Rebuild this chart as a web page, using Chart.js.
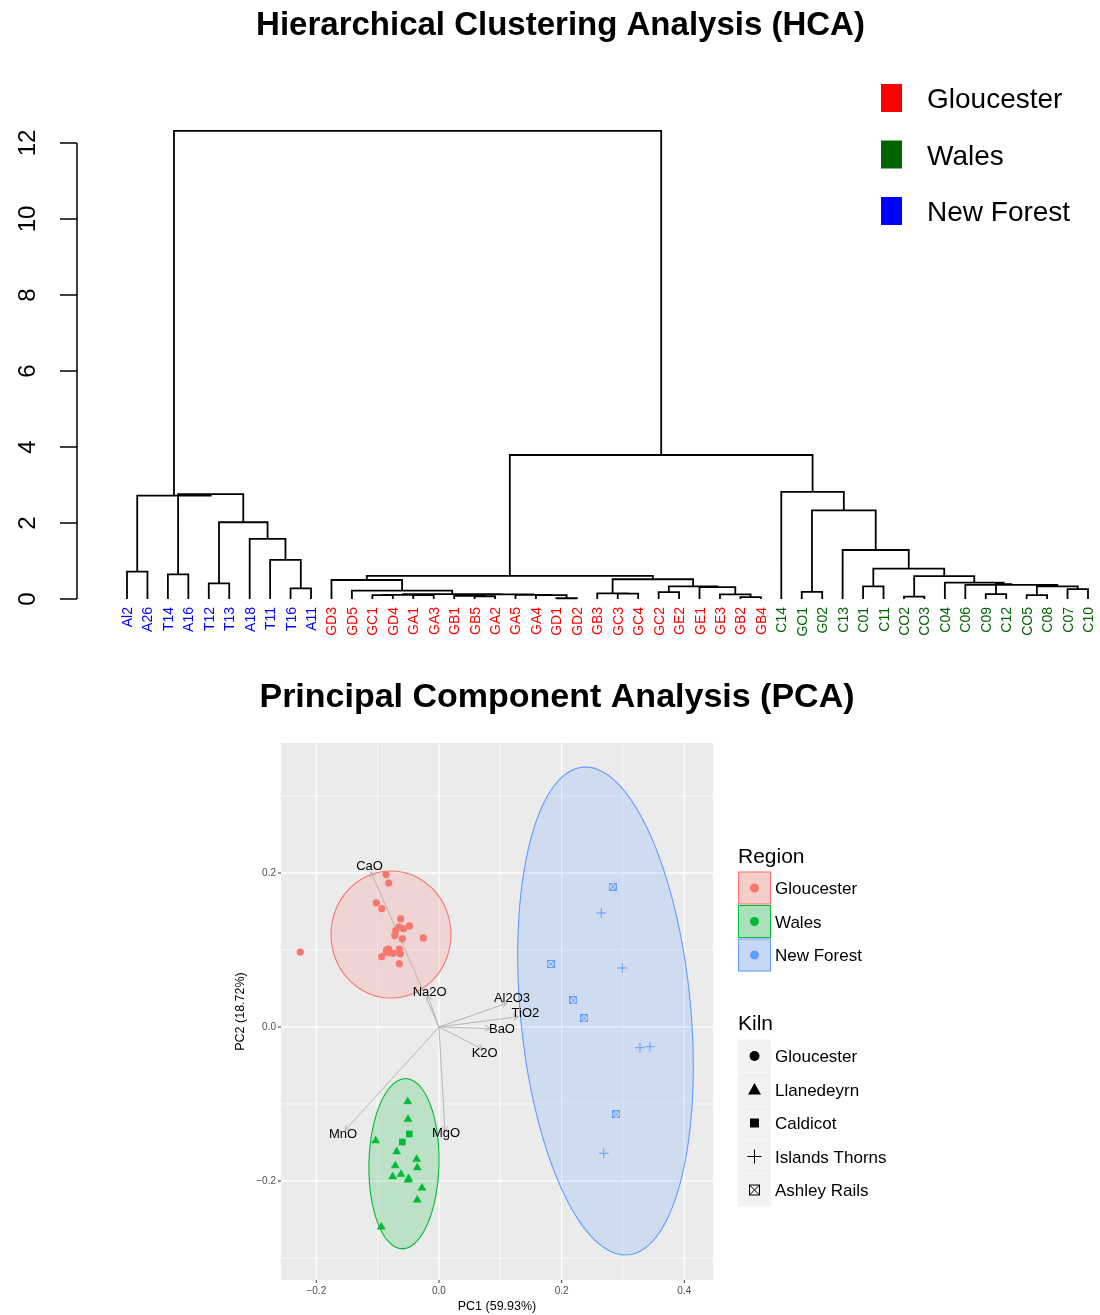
<!DOCTYPE html>
<html><head><meta charset="utf-8">
<script src="https://cdn.jsdelivr.net/npm/chart.js@4/dist/chart.umd.min.js"></script>
<style>
html,body{margin:0;padding:0;background:#fff;}
#wrap{position:relative;width:1100px;height:1315px;overflow:hidden;}
#hca{position:absolute;left:0;top:0;}
#pca{position:absolute;left:0;top:650px;}
</style></head><body>
<div id="wrap">
<canvas id="hca" width="1100" height="650"></canvas>
<canvas id="pca" width="1100" height="665"></canvas>
</div>
<script>
// ---------------- HCA data ----------------
const hcaTitle = "Hierarchical Clustering Analysis (HCA)";
const leafLabels = ["Al2","A26","T14","A16","T12","T13","A18","T11","T16","A11",
 "GD3","GD5","GC1","GD4","GA1","GA3","GB1","GB5","GA2","GA5","GA4","GD1","GD2","GB3","GC3","GC4","GC2","GE2","GE1","GE3","GB2","GB4",
 "C14","GO1","G02","C13","C01","C11","CO2","CO3","C04","C06","C09","C12","CO5","C08","C07","C10"];
const leafRegions = [].concat(Array(10).fill("New Forest"), Array(22).fill("Gloucester"), Array(16).fill("Wales"));
// merges: string = leaf, number = earlier merge index
const mergeA = ["Al2","T14","T12","T16","T11","A18",2,1,0,
 "GC1","GA1",9,"GB5","GB1","GD1","GA4","GA5",13,11,"GD5","GD3",
 "GC3","GB3","GC2","GB2","GE3","GE1",23,22,20,
 "C09","CO5","C07",31,"C06",30,"C04","CO2",37,"C01",39,"C13","GO1",42,"C14",29,8];
const mergeB = ["A26","A16","T13","A11",3,4,5,6,7,
 "GD4","GA3",10,"GA2",12,"GD2",14,15,16,17,18,19,
 "GC4",21,"GE2","GB4",24,25,26,27,28,
 "C12","C08","C10",32,33,34,35,"CO3",36,"C11",38,40,"G02",41,43,44,45];
const mergeHeight = [0.72,0.65,0.41,0.28,1.03,1.58,2.02,2.76,2.72,
 0.10,0.10,0.11,0.07,0.08,0.02,0.10,0.11,0.12,0.13,0.22,0.50,
 0.14,0.15,0.18,0.05,0.12,0.31,0.33,0.52,0.61,
 0.13,0.10,0.26,0.33,0.37,0.39,0.43,0.06,0.60,0.33,0.80,1.29,0.19,2.33,2.82,3.79,12.32];
const hcaYTicks = [0,2,4,6,8,10,12];
const hcaLegendLabels = ["Gloucester","Wales","New Forest"];
const hcaColors = {"Gloucester":"#FF0000","Wales":"#006400","New Forest":"#0000FF"};

// ---------------- PCA data ----------------
const pcaTitle = "Principal Component Analysis (PCA)";
const kilnGloucester = [[-0.0864,0.1979],[-0.0820,0.1870],[-0.1022,0.1613],[-0.0934,0.1536],[-0.0625,0.1403],
 [-0.0481,0.1312],[-0.0652,0.1299],[-0.0576,0.1275],[-0.0706,0.1251],[-0.0721,0.1184],[-0.0598,0.1145],
 [-0.0256,0.1156],[-0.0647,0.1013],[-0.0853,0.1003],[-0.0820,0.1013],[-0.0799,0.0965],[-0.0745,0.0956],
 [-0.0853,0.0974],[-0.0631,0.0951],[-0.0934,0.0913],[-0.0647,0.0822],[-0.2262,0.0974]];
const kilnLlanedeyrn = [[-0.0510,-0.0970],[-0.0505,-0.1199],[-0.1032,-0.1477],[-0.0690,-0.1619],[-0.0364,-0.1718],
 [-0.0354,-0.1827],[-0.0713,-0.1801],[-0.0755,-0.1944],[-0.0620,-0.1913],[-0.0505,-0.1987],[-0.0494,-0.1968],
 [-0.0277,-0.2091],[-0.0354,-0.2247],[-0.0941,-0.2597]];
const kilnCaldicot = [[-0.0484,-0.1390],[-0.0598,-0.1494]];
const kilnIslandsThorns = [[0.2646,0.1481],[0.2989,0.0766],[0.3277,-0.0269],[0.3440,-0.0256],[0.2686,-0.1640]];
const kilnAshleyRails = [[0.2832,0.1822],[0.1821,0.0818],[0.2190,0.0347],[0.2369,0.0113],[0.2891,-0.1134]];
const varNames = ["CaO","Na2O","Al2O3","TiO2","BaO","K2O","MnO","MgO"];
const varPC1 = [-0.1109,-0.0179,0.1104,0.1293,0.0832,0.0713,-0.1533,0.0098];
const varPC2 = [0.2013,0.0403,0.0308,0.0134,-0.0019,-0.0290,-0.1344,-0.1357];
const varLabelPC1 = [-0.1133,-0.0152,0.1190,0.1410,0.1027,0.0745,-0.1565,0.0114];
const varLabelPC2 = [0.2084,0.0448,0.0373,0.0182,-0.0026,-0.0347,-0.1390,-0.1377];
const ellipseRegions = ["Gloucester","Wales","New Forest"];
const ellipseCenters = [[-0.0783,0.1201],[-0.0571,-0.1775],[0.2715,0.0208]];
const ellipseAxisA = [[0.0978,0.0],[0.0571,0.0],[0.0371,-0.3167]];
const ellipseAxisB = [[0.0,0.0825],[0.0026,0.1104],[0.1383,0.0103]];
const pcaXLim = [-0.2576,0.4468];
const pcaYLim = [-0.3286,0.3688];
const pcaXMajor = [-0.2,0.0,0.2,0.4];
const pcaXMinor = [-0.1,0.1,0.3];
const pcaYMajor = [-0.2,0.0,0.2];
const pcaYMinor = [-0.3,-0.1,0.1,0.3];
const pcaXTickLabels = ["\u22120.2","0.0","0.2","0.4"];
const pcaYTickLabels = ["\u22120.2","0.0","0.2"];
const pcaXTitle = "PC1 (59.93%)";
const pcaYTitle = "PC2 (18.72%)";
const regionLegend = ["Gloucester","Wales","New Forest"];
const kilnLegend = ["Gloucester","Llanedeyrn","Caldicot","Islands Thorns","Ashley Rails"];
const regionColors = {"Gloucester":"#F8766D","Wales":"#00BA38","New Forest":"#619CFF"};

const FONT = '"Liberation Sans", Arial, Helvetica, sans-serif';

// ---------------- HCA chart ----------------
const segs = [];
const nodeX = [];
function refPos(r){ return typeof r === 'string' ? {x: leafLabels.indexOf(r), y: 0} : {x: nodeX[r], y: mergeHeight[r]}; }
for (let i = 0; i < mergeHeight.length; i++) {
  const a = refPos(mergeA[i]), b = refPos(mergeB[i]), h = mergeHeight[i];
  nodeX[i] = (a.x + b.x) / 2;
  segs.push({x:a.x,y:a.y},{x:a.x,y:h},{x:b.x,y:h},{x:b.x,y:b.y},{x:b.x,y:null});
}

const hcaDecor = {
  id: 'hcaDecor',
  afterDraw(chart) {
    const ctx = chart.ctx, xs = chart.scales.x, ys = chart.scales.y;
    ctx.save();
    ctx.fillStyle = '#000';
    ctx.font = 'bold 33px ' + FONT; ctx.textAlign = 'center'; ctx.textBaseline = 'alphabetic';
    ctx.fillText(hcaTitle, 560.5, 35);
    // y axis
    ctx.strokeStyle = '#000'; ctx.lineWidth = 1.5;
    const axX = 77;
    ctx.beginPath();
    ctx.moveTo(axX, ys.getPixelForValue(hcaYTicks[0]));
    ctx.lineTo(axX, ys.getPixelForValue(hcaYTicks[hcaYTicks.length - 1]));
    ctx.stroke();
    ctx.font = '24px ' + FONT;
    hcaYTicks.forEach(v => {
      const y = ys.getPixelForValue(v);
      ctx.beginPath(); ctx.moveTo(60, y); ctx.lineTo(axX, y); ctx.stroke();
      ctx.save(); ctx.translate(35, y); ctx.rotate(-Math.PI / 2);
      ctx.textAlign = 'center'; ctx.fillText(String(v), 0, 0); ctx.restore();
    });
    // leaf labels
    ctx.font = '14px ' + FONT;
    leafLabels.forEach((lab, i) => {
      const x = xs.getPixelForValue(i);
      ctx.save(); ctx.translate(x + 5, 607); ctx.rotate(-Math.PI / 2);
      ctx.textAlign = 'right'; ctx.fillStyle = hcaColors[leafRegions[i]];
      ctx.fillText(lab, 0, 0); ctx.restore();
    });
    // legend
    ctx.font = '28px ' + FONT; ctx.textAlign = 'left';
    hcaLegendLabels.forEach((lab, k) => {
      const cy = 98 + k * 56.5;
      ctx.fillStyle = hcaColors[lab];
      ctx.fillRect(881, cy - 14, 21, 28);
      ctx.fillStyle = '#000';
      ctx.fillText(lab, 927, cy + 10);
    });
    ctx.restore();
  }
};

new Chart(document.getElementById('hca'), {
  type: 'scatter',
  data: { datasets: [{ data: segs, showLine: true, spanGaps: false, borderColor: '#000', borderWidth: 1.8,
    pointRadius: 0, pointHoverRadius: 0, clip: false, borderJoinStyle: 'miter' }] },
  options: {
    responsive: false, animation: false, events: [],
    layout: { padding: { left: 116.78, right: 1.78, top: 124, bottom: 51 } },
    scales: {
      x: { type: 'linear', min: -0.5, max: 47.5, display: false },
      y: { type: 'linear', min: 0, max: 12.5, display: false }
    },
    plugins: { legend: { display: false }, tooltip: { enabled: false } }
  },
  plugins: [hcaDecor]
});

// ---------------- PCA chart ----------------
function boxX(color, size, lw) {
  const c = document.createElement('canvas'); c.width = size; c.height = size;
  const g = c.getContext('2d'); g.strokeStyle = color; g.lineWidth = lw;
  const o = lw / 2, e = size - lw / 2;
  g.strokeRect(o, o, e - o, e - o);
  g.beginPath(); g.moveTo(o, o); g.lineTo(e, e); g.moveTo(e, o); g.lineTo(o, e); g.stroke();
  return c;
}
const arStyle = boxX('#619CFF', 8, 1);
const toXY = arr => arr.map(p => ({x: p[0], y: p[1]}));

function drawSymbol(ctx, kind, x, y, color) {
  ctx.save(); ctx.fillStyle = color; ctx.strokeStyle = color;
  if (kind === 0) { ctx.beginPath(); ctx.arc(x, y, 5, 0, 2 * Math.PI); ctx.fill(); }
  else if (kind === 1) { ctx.beginPath(); ctx.moveTo(x, y - 6.5); ctx.lineTo(x + 6.5, y + 5); ctx.lineTo(x - 6.5, y + 5); ctx.closePath(); ctx.fill(); }
  else if (kind === 2) { ctx.fillRect(x - 4.5, y - 4.5, 9, 9); }
  else if (kind === 3) { ctx.lineWidth = 1; ctx.beginPath(); ctx.moveTo(x - 7, y); ctx.lineTo(x + 7, y); ctx.moveTo(x, y - 7); ctx.lineTo(x, y + 7); ctx.stroke(); }
  else if (kind === 4) { ctx.lineWidth = 1; ctx.strokeRect(x - 5, y - 5, 10, 10); ctx.beginPath(); ctx.moveTo(x - 5, y - 5); ctx.lineTo(x + 5, y + 5); ctx.moveTo(x + 5, y - 5); ctx.lineTo(x - 5, y + 5); ctx.stroke(); }
  ctx.restore();
}

const pcaDecor = {
  id: 'pcaDecor',
  beforeDatasetsDraw(chart) {
    const ctx = chart.ctx, ca = chart.chartArea, xs = chart.scales.x, ys = chart.scales.y;
    ctx.save();
    ctx.fillStyle = '#EBEBEB';
    ctx.fillRect(ca.left, ca.top, ca.right - ca.left, ca.bottom - ca.top);
    ctx.strokeStyle = '#FFFFFF';
    ctx.lineWidth = 0.7;
    pcaXMinor.forEach(v => { const p = xs.getPixelForValue(v); ctx.beginPath(); ctx.moveTo(p, ca.top); ctx.lineTo(p, ca.bottom); ctx.stroke(); });
    pcaYMinor.forEach(v => { const p = ys.getPixelForValue(v); ctx.beginPath(); ctx.moveTo(ca.left, p); ctx.lineTo(ca.right, p); ctx.stroke(); });
    ctx.lineWidth = 1.3;
    pcaXMajor.forEach(v => { const p = xs.getPixelForValue(v); ctx.beginPath(); ctx.moveTo(p, ca.top); ctx.lineTo(p, ca.bottom); ctx.stroke(); });
    pcaYMajor.forEach(v => { const p = ys.getPixelForValue(v); ctx.beginPath(); ctx.moveTo(ca.left, p); ctx.lineTo(ca.right, p); ctx.stroke(); });
    // ellipses
    ellipseCenters.forEach((c, k) => {
      const col = regionColors[ellipseRegions[k]];
      ctx.beginPath();
      for (let s = 0; s <= 144; s++) {
        const t = s / 144 * 2 * Math.PI;
        const dx = c[0] + Math.cos(t) * ellipseAxisA[k][0] + Math.sin(t) * ellipseAxisB[k][0];
        const dy = c[1] + Math.cos(t) * ellipseAxisA[k][1] + Math.sin(t) * ellipseAxisB[k][1];
        const px = xs.getPixelForValue(dx), py = ys.getPixelForValue(dy);
        if (s === 0) ctx.moveTo(px, py); else ctx.lineTo(px, py);
      }
      ctx.closePath();
      ctx.globalAlpha = 0.2; ctx.fillStyle = col; ctx.fill();
      ctx.globalAlpha = 1; ctx.strokeStyle = col; ctx.lineWidth = 1.1; ctx.stroke();
    });
    // arrows
    ctx.strokeStyle = '#B5B5B5'; ctx.lineWidth = 1;
    const x0 = xs.getPixelForValue(0), y0 = ys.getPixelForValue(0);
    varNames.forEach((n, k) => {
      const x1 = xs.getPixelForValue(varPC1[k]), y1 = ys.getPixelForValue(varPC2[k]);
      const ang = Math.atan2(y1 - y0, x1 - x0), L = 6, a = Math.PI / 6;
      ctx.beginPath(); ctx.moveTo(x0, y0); ctx.lineTo(x1, y1);
      ctx.moveTo(x1 - L * Math.cos(ang - a), y1 - L * Math.sin(ang - a));
      ctx.lineTo(x1, y1);
      ctx.lineTo(x1 - L * Math.cos(ang + a), y1 - L * Math.sin(ang + a));
      ctx.stroke();
    });
    ctx.restore();
  },
  afterDatasetsDraw(chart) {
    const ctx = chart.ctx, xs = chart.scales.x, ys = chart.scales.y;
    ctx.save();
    ctx.fillStyle = '#000'; ctx.font = '13px ' + FONT; ctx.textAlign = 'center'; ctx.textBaseline = 'middle';
    varNames.forEach((n, k) => ctx.fillText(n, xs.getPixelForValue(varLabelPC1[k]), ys.getPixelForValue(varLabelPC2[k])));
    ctx.restore();
  },
  afterDraw(chart) {
    const ctx = chart.ctx, ca = chart.chartArea, xs = chart.scales.x, ys = chart.scales.y;
    ctx.save();
    // title
    ctx.fillStyle = '#000'; ctx.font = 'bold 34px ' + FONT; ctx.textAlign = 'center'; ctx.textBaseline = 'alphabetic';
    ctx.fillText(pcaTitle, 557, 57);
    // ticks
    ctx.strokeStyle = '#333333'; ctx.lineWidth = 1;
    ctx.font = '10px ' + FONT; ctx.fillStyle = '#4D4D4D';
    pcaXMajor.forEach((v, i) => {
      const p = xs.getPixelForValue(v);
      ctx.beginPath(); ctx.moveTo(p, ca.bottom); ctx.lineTo(p, ca.bottom + 3); ctx.stroke();
      ctx.textAlign = 'center'; ctx.fillText(pcaXTickLabels[i], p, ca.bottom + 14);
    });
    pcaYMajor.forEach((v, i) => {
      const p = ys.getPixelForValue(v);
      ctx.beginPath(); ctx.moveTo(ca.left - 3, p); ctx.lineTo(ca.left, p); ctx.stroke();
      ctx.textAlign = 'right'; ctx.fillText(pcaYTickLabels[i], ca.left - 5, p + 3.5);
    });
    // axis titles
    ctx.fillStyle = '#000'; ctx.font = '12.5px ' + FONT; ctx.textAlign = 'center';
    ctx.fillText(pcaXTitle, (ca.left + ca.right) / 2, 659.5);
    ctx.save(); ctx.translate(243.5, (ca.top + ca.bottom) / 2); ctx.rotate(-Math.PI / 2);
    ctx.fillText(pcaYTitle, 0, 0); ctx.restore();
    // legends
    ctx.textAlign = 'left';
    ctx.font = '21px ' + FONT; ctx.fillStyle = '#000';
    ctx.fillText('Region', 738, 212.5);
    ctx.fillText('Kiln', 738, 379.5);
    ctx.font = '17px ' + FONT;
    regionLegend.forEach((lab, k) => {
      const cy = 238 + k * 33.5, col = regionColors[lab];
      ctx.fillStyle = '#F2F2F2'; ctx.fillRect(738, cy - 16.5, 33, 33);
      ctx.globalAlpha = 0.3; ctx.fillStyle = col; ctx.fillRect(738.5, cy - 16, 32, 32); ctx.globalAlpha = 1;
      ctx.strokeStyle = col; ctx.lineWidth = 1; ctx.strokeRect(738.5, cy - 16, 32, 32);
      ctx.fillStyle = col; ctx.beginPath(); ctx.arc(754.5, cy, 4.5, 0, 2 * Math.PI); ctx.fill();
      ctx.fillStyle = '#000'; ctx.fillText(lab, 775, cy + 6);
    });
    kilnLegend.forEach((lab, k) => {
      const cy = 406 + k * 33.5;
      ctx.fillStyle = '#F2F2F2'; ctx.fillRect(738, cy - 16.5, 33, 33);
      drawSymbol(ctx, k, 754.5, cy, '#000');
      ctx.fillStyle = '#000'; ctx.fillText(lab, 775, cy + 6);
    });
    ctx.restore();
  }
};

new Chart(document.getElementById('pca'), {
  type: 'scatter',
  data: { datasets: [
    { label: 'Gloucester', data: toXY(kilnGloucester), pointStyle: 'circle', pointRadius: 3.6, backgroundColor: '#F8766D', borderColor: '#F8766D', borderWidth: 0 },
    { label: 'Llanedeyrn', data: toXY(kilnLlanedeyrn), pointStyle: 'triangle', pointRadius: 4.6, backgroundColor: '#00BA38', borderColor: '#00BA38', borderWidth: 0.5 },
    { label: 'Caldicot', data: toXY(kilnCaldicot), pointStyle: 'rect', pointRadius: 4.7, backgroundColor: '#00BA38', borderColor: '#00BA38', borderWidth: 0 },
    { label: 'Islands Thorns', data: toXY(kilnIslandsThorns), pointStyle: 'cross', pointRadius: 4.8, backgroundColor: '#619CFF', borderColor: '#619CFF', borderWidth: 1 },
    { label: 'Ashley Rails', data: toXY(kilnAshleyRails), pointStyle: arStyle, pointRadius: 4, backgroundColor: '#619CFF', borderColor: '#619CFF' }
  ] },
  options: {
    responsive: false, animation: false, events: [],
    layout: { padding: { left: 281, right: 387, top: 93, bottom: 35 } },
    scales: {
      x: { type: 'linear', min: pcaXLim[0], max: pcaXLim[1], display: false },
      y: { type: 'linear', min: pcaYLim[0], max: pcaYLim[1], display: false }
    },
    plugins: { legend: { display: false }, tooltip: { enabled: false } }
  },
  plugins: [pcaDecor]
});
</script>
</body></html>
